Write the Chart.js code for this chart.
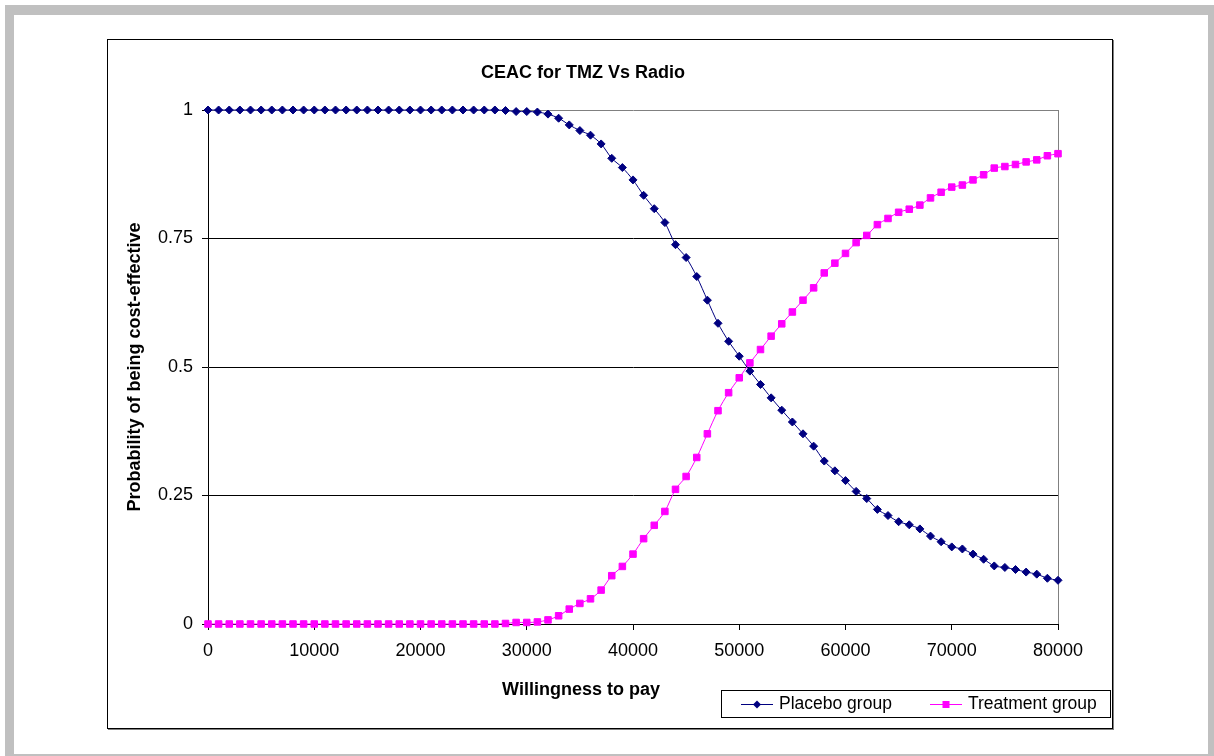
<!DOCTYPE html>
<html>
<head>
<meta charset="utf-8">
<title>CEAC for TMZ Vs Radio</title>
<script src="https://cdn.jsdelivr.net/npm/chart.js"></script>
<style>
  html, body { margin: 0; padding: 0; background: #fff; }
  body { width: 1214px; height: 756px; position: relative; overflow: hidden; }
  #frame {
    position: absolute; left: 5px; top: 5px; width: 1194px; height: 739px;
    border: 9px solid #c0c0c0; border-top-width: 10px; box-sizing: content-box;
  }
  #box {
    position: absolute; left: 107px; top: 39px; width: 1004px; height: 688px;
    border: 1px solid #000; box-shadow: 1px 1px 0 #808080;
  }
  #box canvas { display: block; }
</style>
</head>
<body>
<div id="frame"></div>
<div id="box"><canvas id="ceac" width="1004" height="688"></canvas></div>
<script>
const wtp = [
  0, 1000, 2000, 3000, 4000, 5000, 6000, 7000, 8000, 9000,
  10000, 11000, 12000, 13000, 14000, 15000, 16000, 17000, 18000, 19000,
  20000, 21000, 22000, 23000, 24000, 25000, 26000, 27000, 28000, 29000,
  30000, 31000, 32000, 33000, 34000, 35000, 36000, 37000, 38000, 39000,
  40000, 41000, 42000, 43000, 44000, 45000, 46000, 47000, 48000, 49000,
  50000, 51000, 52000, 53000, 54000, 55000, 56000, 57000, 58000, 59000,
  60000, 61000, 62000, 63000, 64000, 65000, 66000, 67000, 68000, 69000,
  70000, 71000, 72000, 73000, 74000, 75000, 76000, 77000, 78000, 79000,
  80000
]

const placebo = [
  1, 1, 1, 1, 1, 1, 1, 1, 1, 1,
  1, 1, 1, 1, 1, 1, 1, 1, 1, 1,
  1, 1, 1, 1, 1, 1, 1, 1, 0.999, 0.997,
  0.997, 0.996, 0.992, 0.984, 0.971, 0.960, 0.951, 0.934, 0.906, 0.888,
  0.864, 0.834, 0.808, 0.781, 0.738, 0.713, 0.676, 0.630, 0.585, 0.550,
  0.521, 0.492, 0.466, 0.440, 0.416, 0.393, 0.370, 0.346, 0.317, 0.298,
  0.279, 0.258, 0.244, 0.223, 0.211, 0.199, 0.193, 0.185, 0.171, 0.160,
  0.150, 0.146, 0.136, 0.126, 0.113, 0.110, 0.106, 0.101, 0.097, 0.089,
  0.085
]

const treatment = [
  0, 0, 0, 0, 0, 0, 0, 0, 0, 0,
  0, 0, 0, 0, 0, 0, 0, 0, 0, 0,
  0, 0, 0, 0, 0, 0, 0, 0, 0.001, 0.003,
  0.003, 0.004, 0.008, 0.016, 0.029, 0.040, 0.049, 0.066, 0.094, 0.112,
  0.136, 0.166, 0.192, 0.219, 0.262, 0.287, 0.324, 0.370, 0.415, 0.450,
  0.479, 0.508, 0.534, 0.560, 0.584, 0.607, 0.630, 0.654, 0.683, 0.702,
  0.721, 0.742, 0.756, 0.777, 0.789, 0.801, 0.807, 0.815, 0.829, 0.840,
  0.850, 0.854, 0.864, 0.874, 0.887, 0.890, 0.894, 0.899, 0.903, 0.911,
  0.915
]

const seriesNames = ['Placebo group', 'Treatment group']
const seriesColors = ['#000080', '#ff00ff']
const yTicks = [0, 0.25, 0.5, 0.75, 1]

const FONT = "'Liberation Sans', Arial, sans-serif"
Chart.defaults.font.family = FONT
Chart.defaults.color = '#000'

const toPoints = ys => ys.map((y, i) => ({ x: wtp[i], y: y }))

// x title + boxed legend, drawn the way the spreadsheet lays them out
const extras = {
  id: 'extras',
  beforeDatasetsDraw(chart) {
    const { ctx, chartArea } = chart
    ctx.save()
    ctx.strokeStyle = '#808080'
    ctx.lineWidth = 1
    ctx.beginPath()
    ctx.moveTo(Math.round(chartArea.right) + 0.5, chartArea.top)
    ctx.lineTo(Math.round(chartArea.right) + 0.5, chartArea.bottom)
    ctx.stroke()
    ctx.restore()
  },
  afterDraw(chart) {
    const ctx = chart.ctx
    ctx.save()
    ctx.fillStyle = '#000'
    ctx.font = 'bold 18px ' + FONT
    ctx.textAlign = 'center'
    ctx.textBaseline = 'middle'
    ctx.fillText('Willingness to pay', 473, 650)

    // legend box
    ctx.fillStyle = '#fff'
    ctx.fillRect(613, 650, 390, 28)
    ctx.strokeStyle = '#000'
    ctx.lineWidth = 1
    ctx.strokeRect(613.5, 650.5, 389, 27)

    const cy = 664.5
    const entries = [
      { x0: 633, x1: 665, tx: 671, shape: 'diamond' },
      { x0: 822, x1: 854, tx: 860, shape: 'square' }
    ]
    entries.forEach((e, i) => {
      const c = seriesColors[i]
      ctx.strokeStyle = c
      ctx.fillStyle = c
      ctx.beginPath()
      ctx.moveTo(e.x0, cy)
      ctx.lineTo(e.x1, cy)
      ctx.stroke()
      const mx = (e.x0 + e.x1) / 2
      ctx.beginPath()
      if (e.shape === 'diamond') {
        ctx.moveTo(mx - 4, cy); ctx.lineTo(mx, cy - 4)
        ctx.lineTo(mx + 4, cy); ctx.lineTo(mx, cy + 4)
        ctx.closePath()
      } else {
        ctx.rect(mx - 3.5, cy - 3.5, 7, 7)
      }
      ctx.fill()
      ctx.fillStyle = '#000'
      ctx.font = '17.5px ' + FONT
      ctx.textAlign = 'left'
      ctx.textBaseline = 'middle'
      ctx.fillText(seriesNames[i], e.tx, cy)
    })
    ctx.restore()
  }
}

new Chart(document.getElementById('ceac'), {
  type: 'line',
  data: {
    datasets: [
      {
        label: seriesNames[0],
        data: toPoints(placebo),
        borderColor: seriesColors[0],
        backgroundColor: seriesColors[0],
        borderWidth: 1,
        pointStyle: 'rectRot',
        pointRadius: 4,
        pointBorderWidth: 1,
        tension: 0.3,
        clip: false
      },
      {
        label: seriesNames[1],
        data: toPoints(treatment),
        borderColor: seriesColors[1],
        backgroundColor: seriesColors[1],
        borderWidth: 1,
        pointStyle: 'rect',
        pointRadius: 4.6,
        pointBorderWidth: 1,
        tension: 0.3,
        clip: false
      }
    ]
  },
  options: {
    responsive: false,
    animation: false,
    layout: { padding: { left: 0, top: 0, right: 54, bottom: 0 } },
    plugins: {
      legend: { display: false },
      tooltip: { enabled: false },
      title: {
        display: true,
        text: 'CEAC for TMZ Vs Radio',
        color: '#000',
        font: { size: 18, weight: 'bold' },
        padding: { top: 22, bottom: 26.4 }
      }
    },
    scales: {
      x: {
        type: 'linear',
        min: 0,
        max: 80000,
        afterFit: s => { s.height = 104 },
        afterBuildTicks: s => { s.ticks = wtp.filter(v => v % 10000 === 0).map(v => ({ value: v })) },
        ticks: {
          font: { size: 18 },
          color: '#000',
          padding: 10,
          maxRotation: 0,
          callback: v => String(v)
        },
        grid: { drawOnChartArea: false, tickLength: 6, tickColor: '#000', color: '#000' },
        border: { color: '#000', width: 1 }
      },
      y: {
        min: 0,
        max: 1,
        afterFit: s => { s.width = 100 },
        afterBuildTicks: s => { s.ticks = yTicks.map(v => ({ value: v })) },
        ticks: {
          font: { size: 18 },
          color: '#000',
          padding: 9,
          callback: v => String(v)
        },
        grid: {
          color: c => (c.tick && c.tick.value === 1 ? '#808080' : '#000'),
          tickColor: '#000',
          tickLength: 6
        },
        border: { color: '#000', width: 1 },
        title: {
          display: true,
          text: 'Probability of being cost-effective',
          color: '#000',
          font: { size: 18, weight: 'bold' },
          padding: { top: 16, bottom: 0 }
        }
      }
    }
  },
  plugins: [extras]
})
</script>
</body>
</html>
